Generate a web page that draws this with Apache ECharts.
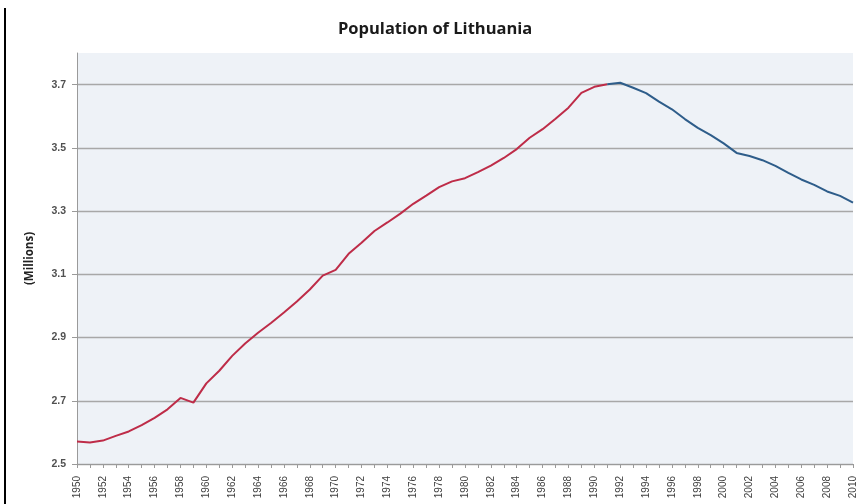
<!DOCTYPE html>
<html>
<head>
<meta charset="utf-8">
<script src="https://cdn.jsdelivr.net/npm/echarts@6/dist/echarts.min.js"></script>
<style>
html,body{margin:0;padding:0;background:#fff;}
#chart{width:858px;height:504px;}
</style>
</head>
<body>
<div id="chart"></div>
<script>
const titleText = "Population of Lithuania";
const yAxisName = "(Millions)";
const years = [];
for (let y = 1950; y <= 2010; y++) years.push(String(y));
const population = [
  2.571, 2.568, 2.574, 2.589, 2.603, 2.623, 2.646, 2.673, 2.709, 2.694,
  2.755, 2.795, 2.842, 2.881, 2.915, 2.946, 2.979, 3.014, 3.052, 3.096,
  3.114, 3.165, 3.200, 3.237, 3.264, 3.292, 3.323, 3.349, 3.376, 3.394,
  3.404, 3.423, 3.444, 3.468, 3.496, 3.532, 3.559, 3.592, 3.627, 3.674,
  3.693, 3.701, 3.706, 3.690, 3.673, 3.646, 3.622, 3.591, 3.563, 3.540,
  3.514, 3.484, 3.474, 3.461, 3.443, 3.421, 3.400, 3.383, 3.362, 3.348,
  3.327
];
const splitYear = "1991";
const yTicks = [2.5, 2.7, 2.9, 3.1, 3.3, 3.5, 3.7];

const splitIdx = years.indexOf(splitYear);
const redData = population.map((v, i) => i <= splitIdx ? v : null);
const blueData = population.map((v, i) => i >= splitIdx ? v : null);

const chart = echarts.init(document.getElementById('chart'), null, {renderer: 'canvas'});
chart.setOption({
  animation: false,
  backgroundColor: '#ffffff',
  title: {
    text: titleText,
    left: 333,
    top: 16,
    textStyle: {fontFamily: 'Open Sans', fontWeight: 'bold', fontSize: 16.5, color: '#1a1a1a'}
  },
  grid: {
    left: 77, top: 53, right: 1, bottom: 40,
    show: true, backgroundColor: '#eef2f7', borderWidth: 0
  },
  xAxis: {
    type: 'category',
    data: years,
    boundaryGap: false,
    axisLine: {lineStyle: {color: '#9a9a9a', width: 1}},
    axisTick: {interval: 0, length: 4, lineStyle: {color: '#9a9a9a'}},
    axisLabel: {
      interval: 1, rotate: 90, margin: 12,
      fontFamily: 'Liberation Sans', fontSize: 10, color: '#404040'
    },
    splitLine: {show: false}
  },
  yAxis: {
    type: 'value',
    min: yTicks[0],
    max: 3.8,
    interval: 0.2,
    name: yAxisName,
    nameLocation: 'middle',
    nameGap: 41,
    nameTextStyle: {fontFamily: 'Open Sans', fontWeight: 'bold', fontSize: 11.5, color: '#222'},
    axisLine: {show: true, lineStyle: {color: '#9a9a9a', width: 1}},
    axisTick: {show: true, length: 5, lineStyle: {color: '#9a9a9a'}},
    axisLabel: {
      margin: 11, showMaxLabel: false,
      fontFamily: 'Liberation Sans', fontSize: 10.5, fontWeight: 'bold', color: '#505050',
      formatter: v => yTicks.some(t => Math.abs(t - v) < 1e-6) ? v.toFixed(1) : ''
    },
    splitLine: {show: true, showMaxLine: false, lineStyle: {color: '#a8a8a8', width: 1.3}}
  },
  series: [
    {
      type: 'line', data: redData, showSymbol: false, connectNulls: false,
      lineStyle: {color: '#be2c48', width: 2}, itemStyle: {color: '#be2c48'}
    },
    {
      type: 'line', data: blueData, showSymbol: false, connectNulls: false,
      lineStyle: {color: '#2e5d8a', width: 2}, itemStyle: {color: '#2e5d8a'}
    }
  ],
  graphic: [
    {type: 'rect', shape: {x: 4, y: 8, width: 2, height: 496}, style: {fill: '#000'}, silent: true}
  ]
});
</script>
</body>
</html>
